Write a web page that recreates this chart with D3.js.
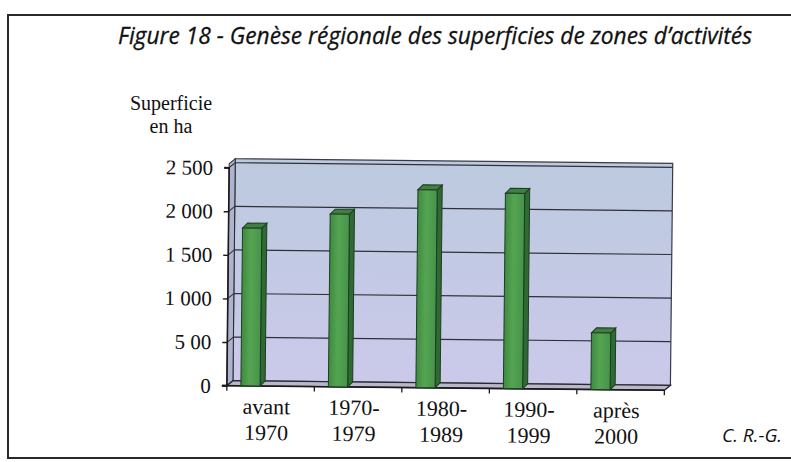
<!DOCTYPE html>
<html>
<head>
<meta charset="utf-8">
<script src="https://cdn.jsdelivr.net/npm/d3@7"></script>
<style>
  html, body { margin: 0; padding: 0; background: #fff; }
  svg { display: block; }
</style>
</head>
<body>
<div id="chart"></div>
<script>
// Data
const categories = ["avant 1970", "1970-1979", "1980-1989", "1990-1999", "après 2000"];
const catLine1 = ["avant", "1970-", "1980-", "1990-", "après"];
const catLine2 = ["1970", "1979", "1989", "1999", "2000"];
const superficie = [1810, 1980, 2270, 2240, 650];
const tickValues = [0, 500, 1000, 1500, 2000, 2500];
const tickLabels = ["0", "5 00", "1 000", "1 500", "2 000", "2 500"];

const W = 791, H = 462;
const svg = d3.select("#chart").append("svg")
  .attr("width", W).attr("height", H);

// Outer frame
svg.append("rect")
  .attr("x", 8).attr("y", 15).attr("width", 800).attr("height", 443)
  .attr("fill", "#fff").attr("stroke", "#2a2a2a").attr("stroke-width", 2);

// Title
svg.append("text")
  .attr("x", 118).attr("y", 44)
  .attr("textLength", 634).attr("lengthAdjust", "spacingAndGlyphs")
  .attr("font-family", "'Open Sans', sans-serif")
  .attr("font-style", "italic")
  .attr("font-size", 24)
  .attr("stroke", "#111").attr("stroke-width", 0.3)
  .attr("fill", "#111")
  .text("Figure 18 - Genèse régionale des superficies de zones d’activités");

// Credit
svg.append("text")
  .attr("x", 722).attr("y", 442)
  .attr("font-family", "'Open Sans', sans-serif")
  .attr("font-style", "italic")
  .attr("font-size", 19)
  .attr("fill", "#111")
  .text("C. R.-G.");

// Axis title
const serif = "'Liberation Serif', 'Times New Roman', serif";
svg.append("text").attr("x", 171).attr("y", 110)
  .attr("text-anchor", "middle").attr("font-family", serif).attr("font-size", 20)
  .attr("fill", "#111").text("Superficie");
svg.append("text").attr("x", 171).attr("y", 133)
  .attr("text-anchor", "middle").attr("font-family", serif).attr("font-size", 20)
  .attr("fill", "#111").text("en ha");

// Scales
const x = d3.scaleBand().domain(categories).range([228, 665.5]).padding(0);
const y = d3.scaleLinear().domain([0, 2500]).range([388, 170]);
const dx = 6, dy = -5; // depth offset of the 3D box

const g = svg.append("g").attr("transform", "rotate(0.6, 450, 280)");

const defs = svg.append("defs");
const wallGrad = defs.append("linearGradient").attr("id", "wall")
  .attr("x1", 0).attr("y1", 0).attr("x2", 0).attr("y2", 1);
wallGrad.append("stop").attr("offset", "0%").attr("stop-color", "#bccadf");
wallGrad.append("stop").attr("offset", "100%").attr("stop-color", "#cbc9ea");

const barGrad = defs.append("linearGradient").attr("id", "barFront")
  .attr("x1", 0).attr("y1", 0).attr("x2", 1).attr("y2", 0);
barGrad.append("stop").attr("offset", "0%").attr("stop-color", "#3f8a40");
barGrad.append("stop").attr("offset", "45%").attr("stop-color", "#55a452");
barGrad.append("stop").attr("offset", "100%").attr("stop-color", "#46934a");

const x0 = x.range()[0], x1 = x.range()[1];
const yTop = y(2500) - 4, yBase = y(0);

// Back wall
g.append("rect")
  .attr("x", x0 + dx).attr("y", yTop + dy)
  .attr("width", x1 - x0).attr("height", yBase - yTop)
  .attr("fill", "url(#wall)").attr("stroke", "#3a3a48").attr("stroke-width", 1.2);

// Side wall
g.append("path")
  .attr("d", `M${x0},${yTop} L${x0 + dx},${yTop + dy} L${x0 + dx},${yBase + dy} L${x0},${yBase} Z`)
  .attr("fill", "#aeb4d0").attr("stroke", "#2a2a2a").attr("stroke-width", 1);

// Floor
g.append("path")
  .attr("d", `M${x0},${yBase} L${x1},${yBase} L${x1 + dx},${yBase + dy} L${x0 + dx},${yBase + dy} Z`)
  .attr("fill", "#b8b8c8").attr("stroke", "#2a2a34").attr("stroke-width", 1.3);

// Gridlines on back and side walls
tickValues.filter(v => v > 0).forEach(v => {
  g.append("line")
    .attr("x1", x0 + dx).attr("x2", x1 + dx)
    .attr("y1", y(v) + dy).attr("y2", y(v) + dy)
    .attr("stroke", "#30303a").attr("stroke-width", 1.2);
  g.append("line")
    .attr("x1", x0).attr("x2", x0 + dx)
    .attr("y1", y(v)).attr("y2", y(v) + dy)
    .attr("stroke", "#30303a").attr("stroke-width", 1);
});

// Y axis
const yAxis = d3.axisLeft(y).tickValues(tickValues)
  .tickFormat((d, i) => tickLabels[i]).tickSize(5).tickPadding(11);
const ya = g.append("g").attr("transform", `translate(${x0},0)`).call(yAxis);
ya.select(".domain").attr("stroke", "#1a1a1a").attr("stroke-width", 1.6)
  .attr("d", `M-5,${y(2500)}H0V${y(0)}H-5`);
ya.selectAll(".tick line").attr("stroke", "#1a1a1a").attr("stroke-width", 1.4);
ya.selectAll(".tick text")
  .attr("font-family", serif).attr("font-size", 21).attr("fill", "#111");

// X axis ticks on the front floor edge
const xt = categories.map(c => x(c)).concat([x1]);
g.selectAll("line.xtick").data(xt).join("line")
  .attr("class", "xtick")
  .attr("x1", d => d).attr("x2", d => d)
  .attr("y1", yBase).attr("y2", yBase + 5)
  .attr("stroke", "#1a1a1a").attr("stroke-width", 1.3);
g.append("line").attr("x1", x0 - 5).attr("x2", x1).attr("y1", yBase).attr("y2", yBase)
  .attr("stroke", "#1a1a1a").attr("stroke-width", 1.6);

// Bars (front face, side, top)
const bw = x.bandwidth() * 0.22;
const bOff = x.bandwidth() * 0.16;
const bars = g.selectAll("g.bar").data(categories).join("g").attr("class", "bar");
bars.append("path")
  .attr("d", (c, i) => {
    const bx = x(c) + bOff + bw, ty = y(superficie[i]);
    return `M${bx},${ty} L${bx + dx - 1},${ty + dy} L${bx + dx - 1},${yBase + dy} L${bx},${yBase} Z`;
  })
  .attr("fill", "#2f6a34").attr("stroke", "#1c3d1f").attr("stroke-width", 1);
bars.append("path")
  .attr("d", (c, i) => {
    const bx = x(c) + bOff, ty = y(superficie[i]);
    return `M${bx},${ty} L${bx + dx - 1},${ty + dy} L${bx + bw + dx - 1},${ty + dy} L${bx + bw},${ty} Z`;
  })
  .attr("fill", "#3f7f41").attr("stroke", "#1c3d1f").attr("stroke-width", 1);
bars.append("rect")
  .attr("x", c => x(c) + bOff)
  .attr("y", (c, i) => y(superficie[i]))
  .attr("width", bw)
  .attr("height", (c, i) => yBase - y(superficie[i]))
  .attr("fill", "url(#barFront)").attr("stroke", "#1c3d1f").attr("stroke-width", 1);

// Category labels
const labels = g.selectAll("g.cat").data(categories).join("g").attr("class", "cat");
labels.append("text")
  .attr("x", c => x(c) + x.bandwidth() / 2 - 4).attr("y", 416)
  .attr("text-anchor", "middle").attr("font-family", serif).attr("font-size", 22)
  .attr("fill", "#111").text((c, i) => catLine1[i]);
labels.append("text")
  .attr("x", c => x(c) + x.bandwidth() / 2 - 4).attr("y", 442)
  .attr("text-anchor", "middle").attr("font-family", serif).attr("font-size", 22)
  .attr("fill", "#111").text((c, i) => catLine2[i]);
</script>
</body>
</html>
